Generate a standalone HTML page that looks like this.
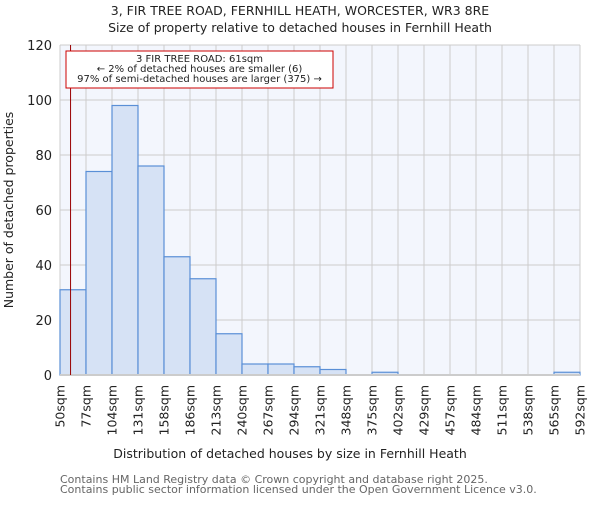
<!DOCTYPE html>
<html><head><meta charset="utf-8"><style>
body{margin:0;background:#fff;}
svg text{font-family:"DejaVu Sans","Liberation Sans",sans-serif;}
</style></head><body>
<svg id="chart" width="600" height="500" xmlns="http://www.w3.org/2000/svg">
<text x="300" y="15" text-anchor="middle" font-size="12.5" fill="#222">3, FIR TREE ROAD, FERNHILL HEATH, WORCESTER, WR3 8RE</text>
<text x="300" y="32" text-anchor="middle" font-size="12.5" fill="#222">Size of property relative to detached houses in Fernhill Heath</text>
<rect x="60" y="45" width="520" height="330" fill="#f3f6fd"/>
<g id="grid"></g>
<g id="bars"></g>
<g id="axes"></g>
<text transform="translate(13,210) rotate(-90)" text-anchor="middle" font-size="12.5" fill="#222">Number of detached properties</text>
<text x="290" y="458" text-anchor="middle" font-size="12.5" fill="#222">Distribution of detached houses by size in Fernhill Heath</text>
<text x="60" y="483" font-size="11" fill="#666">Contains HM Land Registry data © Crown copyright and database right 2025.</text>
<text x="60" y="493" font-size="11" fill="#666">Contains public sector information licensed under the Open Government Licence v3.0.</text>
</svg>
<script>
const binLabels=["50sqm","77sqm","104sqm","131sqm","158sqm","186sqm","213sqm","240sqm","267sqm","294sqm","321sqm","348sqm","375sqm","402sqm","429sqm","457sqm","484sqm","511sqm","538sqm","565sqm","592sqm"];
const counts=[31,74,98,76,43,35,15,4,4,3,2,0,1,0,0,0,0,0,0,1];
const yTicks=[0,20,40,60,80,100,120];
const propertySize=61;
const binStart=50, binEnd=592;
const L=60,R=580,T=45,B=375,yMax=120;
const nb=counts.length;
const xs=v=>L+(v-binStart)/(binEnd-binStart)*(R-L);
const xi=i=>L+i*(R-L)/nb;
const ys=v=>B-v/yMax*(B-T);
const NS="http://www.w3.org/2000/svg";
function mk(tag,attrs,parent,text){const e=document.createElementNS(NS,tag);for(const k in attrs)e.setAttribute(k,attrs[k]);if(text!==undefined)e.textContent=text;document.getElementById(parent).appendChild(e);return e;}
yTicks.forEach(t=>{
 const g=mk('line',{x1:L,x2:R,y1:ys(t),y2:ys(t),stroke:'#cccccc','stroke-width':1},'grid');
 
 
 const tx=mk('text',{x:L-8,y:ys(t)+5,'text-anchor':'end','font-size':13,fill:'#222'},'axes',t);
 
 
});
binLabels.forEach((lb,i)=>{
 const x=xi(i);
 const g=mk('line',{x1:x,x2:x,y1:T,y2:B,stroke:'#cccccc','stroke-width':1},'grid');
 
 
 const tx=mk('text',{transform:`translate(${x+4.5},${B+10}) rotate(-90)`,'text-anchor':'end','font-size':12.5,fill:'#222'},'axes',lb);
 
 
});
counts.forEach((c,i)=>{
 if(c<=0)return;
 const r=mk('rect',{x:xi(i),y:ys(c),width:(R-L)/nb,height:B-ys(c),fill:'#d6e2f5',stroke:'#5a8fd6','stroke-width':1.2},'bars');
 
 
});
const ax=mk('line',{x1:L,x2:R,y1:B,y2:B,stroke:'#cccccc','stroke-width':2},'axes');


const px=xs(propertySize);
const pl=mk('line',{x1:px,x2:px,y1:T,y2:B,stroke:'#990000','stroke-width':1},'axes');


const box=mk('rect',{x:66,y:51,width:267,height:37,fill:'#fff',stroke:'#cc0000','stroke-width':1},'axes');


["3 FIR TREE ROAD: 61sqm","← 2% of detached houses are smaller (6)","97% of semi-detached houses are larger (375) →"].forEach((s,i)=>{
 const t=mk('text',{x:199.5,y:62+i*10,'text-anchor':'middle','font-size':10,fill:'#222'},'axes',s);
 
 
});
</script>
</body></html>
